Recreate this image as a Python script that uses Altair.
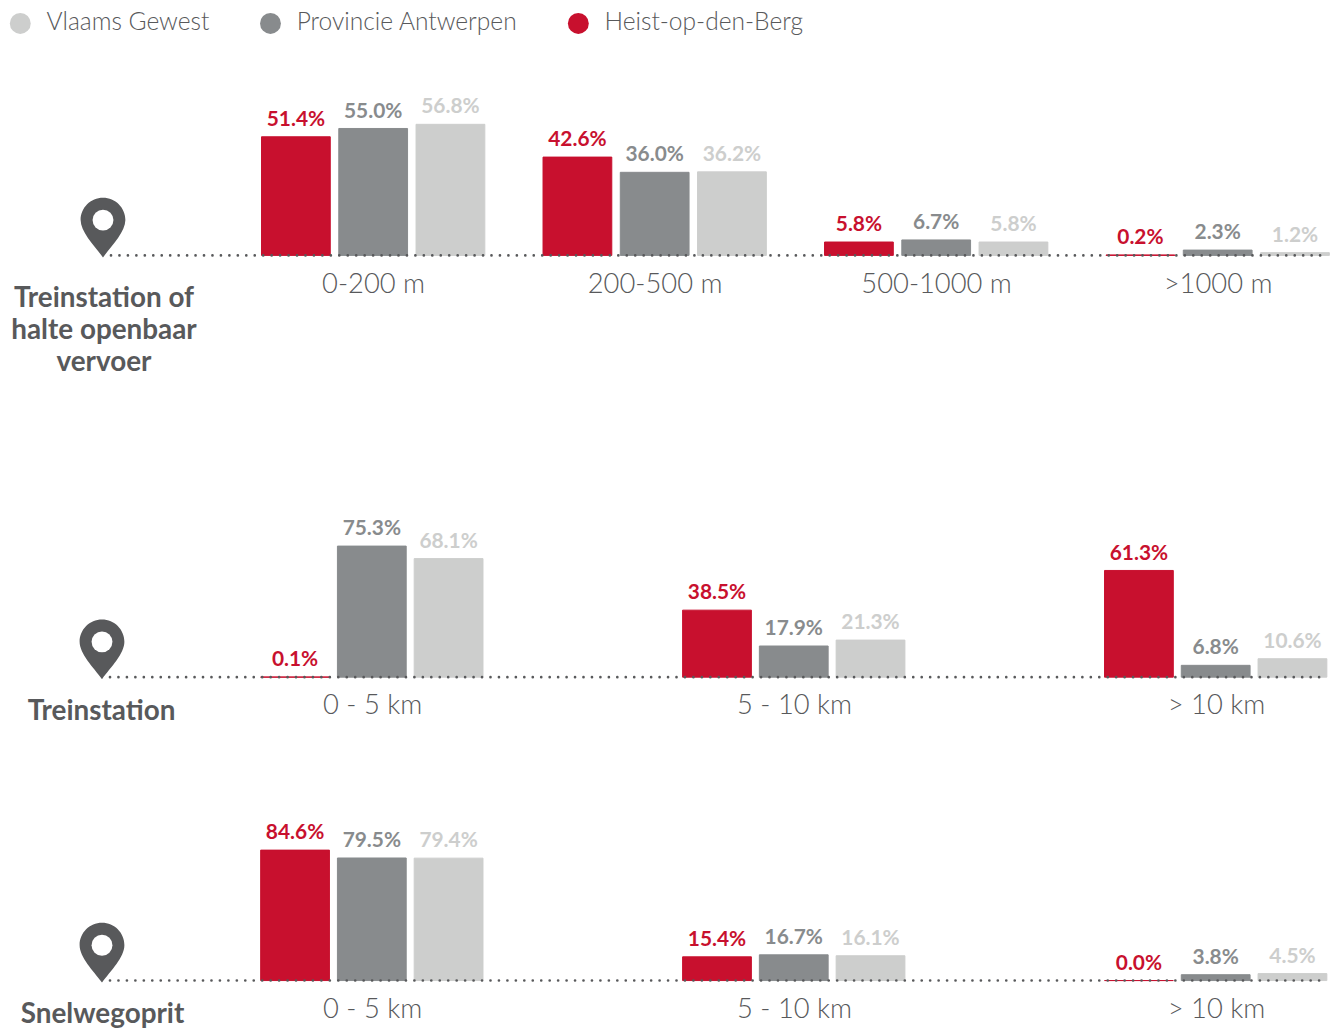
import altair as alt
import pandas as pd

SERIES = ["Heist-op-den-Berg", "Provincie Antwerpen", "Vlaams Gewest"]
LEGEND_ORDER = ["Vlaams Gewest", "Provincie Antwerpen", "Heist-op-den-Berg"]
COLORS = ["#cdcecd", "#888b8d", "#c8102e"]
DARK = "#58595b"
FONT = "Lato"

cats_a = ["0-200 m", "200-500 m", "500-1000 m", ">1000 m"]
heist_a = [51.4, 42.6, 5.8, 0.2]
prov_a = [55.0, 36.0, 6.7, 2.3]
vlaams_a = [56.8, 36.2, 5.8, 1.2]

cats_b = ["0 - 5 km", "5 - 10 km", "> 10 km"]
heist_b = [0.1, 38.5, 61.3]
prov_b = [75.3, 17.9, 6.8]
vlaams_b = [68.1, 21.3, 10.6]

cats_c = ["0 - 5 km", "5 - 10 km", "> 10 km"]
heist_c = [84.6, 15.4, 0.0]
prov_c = [79.5, 16.7, 3.8]
vlaams_c = [79.4, 16.1, 4.5]

PIN = "M0,1 C-0.3,0.6 -0.75,0.15 -0.75,-0.25 A0.75,0.75 0 1 1 0.75,-0.25 C0.75,0.15 0.3,0.6 0,1 Z"


def panel(cats, heist, prov, vlaams, title, height, ppu, xrange, pad_in, orange,
          pin_x, title_x, title_y, title_dy=0):
    rows = []
    for c, h, p, v in zip(cats, heist, prov, vlaams):
        for s, val in zip(SERIES, (h, p, v)):
            rows.append({"cat": c, "series": s, "value": val, "label": f"{val:.1f}%"})
    df = pd.DataFrame(rows)
    x = alt.X("cat:N", sort=cats, title=None,
              scale=alt.Scale(domain=cats, range=xrange, paddingInner=0, paddingOuter=0, round=False),
              axis=alt.Axis(domain=False, ticks=False, labelAngle=0, labelFont=FONT,
                            labelFontSize=27.5, labelFontWeight=300, labelColor=DARK,
                            labelPadding=29, labelBaseline="middle", grid=False, labelOverlap=False))
    xo = alt.XOffset("series:N", sort=SERIES,
                     scale=alt.Scale(domain=SERIES, range=orange, paddingInner=pad_in, paddingOuter=0, round=False))
    y = alt.Y("value:Q", axis=None, scale=alt.Scale(domain=[0, height / ppu], nice=False, zero=True))
    color = alt.Color("series:N", scale=alt.Scale(domain=LEGEND_ORDER, range=COLORS),
                      legend=alt.Legend(title=None, orient="none", legendX=0, legendY=0, padding=0,
                                        direction="horizontal", symbolType="circle", symbolSize=441,
                                        symbolStrokeWidth=0, symbolOpacity=1, labelFont=FONT,
                                        labelFontSize=24.7, labelFontWeight=300, labelColor=DARK,
                                        labelOffset=14, columnPadding=48.5, labelLimit=400))
    base = alt.Chart(df)
    bars = base.mark_bar(strokeWidth=1).encode(
        x=x, xOffset=xo, y=y, color=color,
        stroke=alt.Stroke("series:N", scale=alt.Scale(domain=LEGEND_ORDER, range=COLORS), legend=None))
    labels = base.mark_text(font=FONT, fontSize=21, fontWeight=700, baseline="bottom", dy=-7).encode(
        x=x, xOffset=xo, y=y, text="label:N",
        color=alt.Color("series:N", scale=alt.Scale(domain=LEGEND_ORDER, range=COLORS), legend=None))
    one = pd.DataFrame({"t": [title]})
    line = alt.Chart(one).mark_rule(color=DARK, strokeWidth=2.6, strokeDash=[0.1, 8.4], strokeCap="round").encode(
        x=alt.value(pin_x + 8), x2=alt.value(1322), y=alt.value(height))
    pin = alt.Chart(one).mark_point(shape=PIN, size=3600, filled=True, color=DARK, opacity=1).encode(
        x=alt.value(pin_x), y=alt.value(height - 28))
    hole = alt.Chart(one).mark_point(shape="circle", size=441, filled=True, color="white", opacity=1).encode(
        x=alt.value(pin_x), y=alt.value(height - 35.5))
    ttl = alt.Chart(one).mark_text(font=FONT, fontSize=28, fontWeight=700, color=DARK, lineBreak="\n",
                                   lineHeight=32, baseline="top", align="center", dy=title_dy).encode(
        x=alt.value(title_x), y=alt.value(height + title_y), text="t:N")
    return alt.layer(bars, line, labels, pin, hole, ttl).properties(width=1322, height=height)


p1 = panel(cats_a, heist_a, prov_a, vlaams_a, "Treinstation of\nhalte openbaar\nvervoer",
           246, 2.32, [226, 1358], 0.11, [28.85, 253.35], 95.5, 96.5, 31, -1)
p2 = panel(cats_b, heist_b, prov_b, vlaams_b, "Treinstation",
           302, 1.75, [154.5, 1427], 0.104, [99.5, 323], 94.5, 94, 21)
p3 = panel(cats_c, heist_c, prov_c, vlaams_c, "Snelwegoprit",
           256, 1.55, [154.5, 1427], 0.104, [99.5, 323], 94.5, 95, 21)

chart = (alt.vconcat(p1, p2, p3, spacing=0).properties(padding=0).configure_view(stroke=None)
         .resolve_scale(x="independent", y="independent", xOffset="independent"))
chart.save("out.html", embed_options={"renderer": "svg", "actions": False})
